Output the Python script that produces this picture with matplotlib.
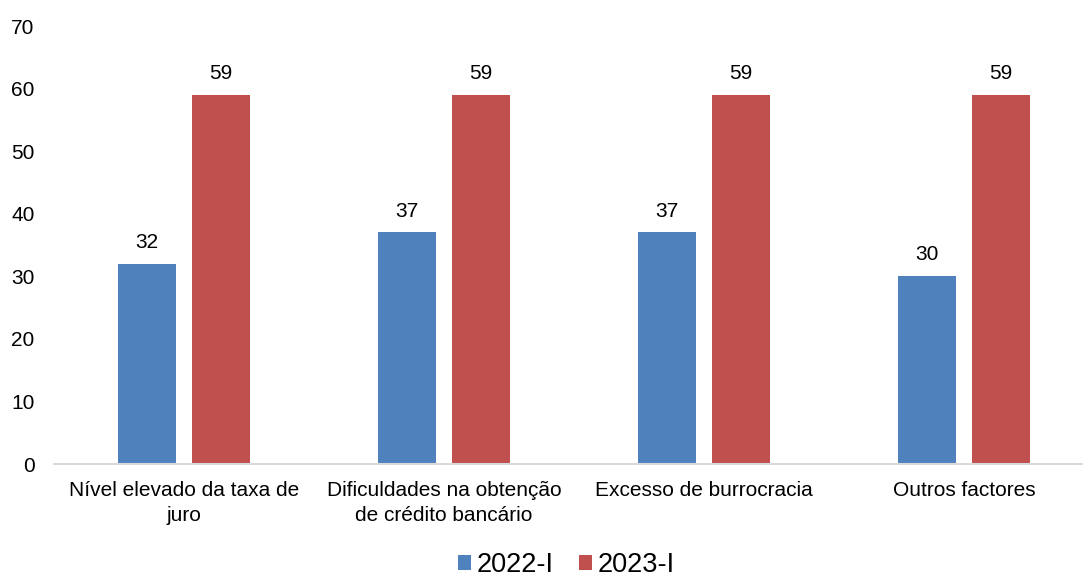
import matplotlib
matplotlib.use("Agg")
import matplotlib.pyplot as plt
import numpy as np

categories = ["Nível elevado da taxa de\njuro", "Dificuldades na obtenção\nde crédito bancário",
              "Excesso de burrocracia", "Outros factores"]
series_names = ["2022-I", "2023-I"]
values_2022 = [32, 37, 37, 30]
values_2023 = [59, 59, 59, 59]
colors = ["#4F81BD", "#C0504D"]

plt.rcParams['font.family'] = ['Liberation Sans', 'DejaVu Sans']

fig = plt.figure(figsize=(10.83, 5.76), dpi=100)
left_px, right_px = 54, 1083
ax = fig.add_axes([left_px / 1083, 1 - 464 / 576, (right_px - left_px) / 1083, (464 - 26) / 576])

x = np.arange(len(categories))
w = 0.223
off = 0.142
b1 = ax.bar(x - off, values_2022, w, color=colors[0], label=series_names[0])
b2 = ax.bar(x + off, values_2023, w, color=colors[1], label=series_names[1])
for bars in (b1, b2):
    for r in bars:
        ax.text(r.get_x() + r.get_width() / 2, r.get_height() + 1.9, f"{int(r.get_height())}",
                ha='center', va='bottom', fontsize=15, color='black')

ax.set_xlim(-0.5, -0.5 + (right_px - left_px) / 260)
ax.set_ylim(0, 70)
ax.set_yticks(range(0, 71, 10))
ax.set_xticks(x)
ax.set_xticklabels(categories, fontsize=15, linespacing=1.45)
ax.tick_params(axis='y', labelsize=15, length=0, pad=14)
ax.tick_params(axis='x', length=0, pad=12)
for s in ['top', 'right', 'left']:
    ax.spines[s].set_visible(False)
ax.spines['bottom'].set_color('#D9D9D9')
ax.spines['bottom'].set_linewidth(1.5)

fig.legend(handles=[b1, b2], labels=series_names, loc='center', bbox_to_anchor=(0.523, 0.019),
           ncol=2, frameon=False, fontsize=19.5, handlelength=0.48, handleheight=0.48,
           handletextpad=0.22, columnspacing=0.93)

fig.savefig("out.png", dpi=100)
